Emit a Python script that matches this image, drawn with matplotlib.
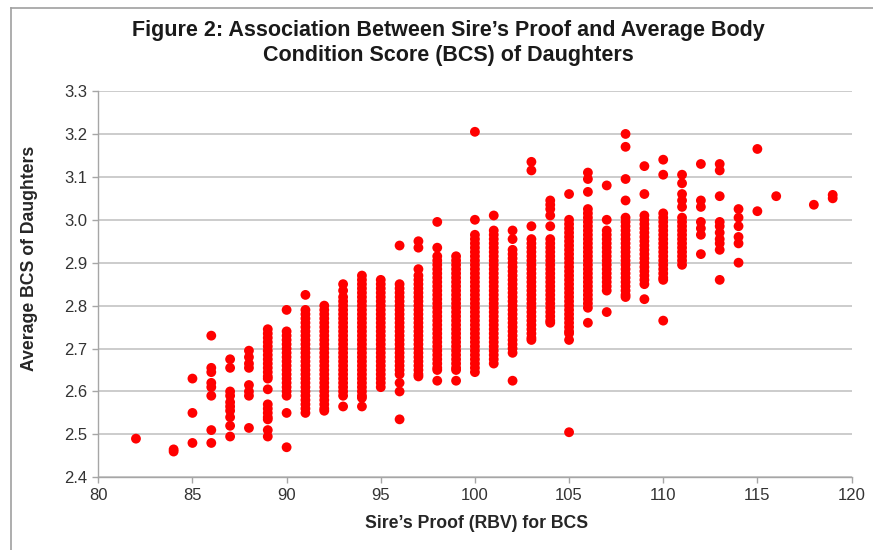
import numpy as np
import matplotlib
matplotlib.use("Agg")
import matplotlib.pyplot as plt
from matplotlib.lines import Line2D

# sire's proof (RBV) columns and the average daughter BCS read in each column
sire_proof = [82, 84, 85, 86, 87, 88, 89, 90, 91, 92, 93, 94, 95, 96, 97, 98, 99,
              100, 101, 102, 103, 104, 105, 106, 107, 108, 109, 110, 111, 112,
              113, 114, 115, 116, 118, 119]

daughters_bcs = [
    [2.49],
    [2.465, 2.46],
    [2.63, 2.55, 2.48],
    [2.73, 2.655, 2.645, 2.62, 2.61, 2.59, 2.51, 2.48],
    [2.675, 2.655, 2.60, 2.59, 2.575, 2.565, 2.555, 2.54, 2.52, 2.495],
    [2.695, 2.68, 2.665, 2.655, 2.615, 2.60, 2.59, 2.515],
    [2.745, 2.735, 2.725, 2.715, 2.705, 2.695, 2.685, 2.675, 2.665, 2.655, 2.645, 2.635,
     2.63, 2.605, 2.57, 2.56, 2.55, 2.54, 2.535, 2.51, 2.495],
    [2.79, 2.74, 2.73, 2.72, 2.71, 2.70, 2.69, 2.68, 2.67, 2.66, 2.65, 2.64, 2.63, 2.62,
     2.61, 2.60, 2.59, 2.55, 2.47],
    [2.825, 2.79, 2.78, 2.77, 2.76, 2.75, 2.74, 2.73, 2.72, 2.71, 2.70, 2.69, 2.68, 2.67,
     2.66, 2.65, 2.64, 2.63, 2.62, 2.61, 2.60, 2.59, 2.58, 2.57, 2.56, 2.55],
    [2.80, 2.79, 2.78, 2.77, 2.76, 2.75, 2.74, 2.73, 2.72, 2.71, 2.70, 2.69, 2.68, 2.67,
     2.66, 2.65, 2.64, 2.63, 2.62, 2.61, 2.60, 2.59, 2.58, 2.57, 2.56, 2.555],
    [2.85, 2.835, 2.82, 2.81, 2.80, 2.79, 2.78, 2.77, 2.76, 2.75, 2.74, 2.73, 2.72, 2.71,
     2.70, 2.69, 2.68, 2.67, 2.66, 2.65, 2.64, 2.63, 2.62, 2.61, 2.60, 2.59, 2.565],
    [2.87, 2.86, 2.85, 2.84, 2.83, 2.82, 2.81, 2.80, 2.79, 2.78, 2.77, 2.76, 2.75, 2.74,
     2.73, 2.72, 2.71, 2.70, 2.69, 2.68, 2.67, 2.66, 2.65, 2.64, 2.63, 2.62, 2.61, 2.60,
     2.59, 2.585, 2.565],
    [2.86, 2.85, 2.84, 2.83, 2.82, 2.81, 2.80, 2.79, 2.78, 2.77, 2.76, 2.75, 2.74, 2.73,
     2.72, 2.71, 2.70, 2.69, 2.68, 2.67, 2.66, 2.65, 2.64, 2.63, 2.62, 2.61],
    [2.94, 2.85, 2.84, 2.83, 2.82, 2.81, 2.80, 2.79, 2.78, 2.77, 2.76, 2.75, 2.74, 2.73,
     2.72, 2.71, 2.70, 2.69, 2.68, 2.67, 2.66, 2.65, 2.64, 2.62, 2.60, 2.535],
    [2.95, 2.935, 2.885, 2.87, 2.86, 2.85, 2.84, 2.83, 2.82, 2.81, 2.80, 2.79, 2.78, 2.77,
     2.76, 2.75, 2.74, 2.73, 2.72, 2.71, 2.70, 2.69, 2.68, 2.67, 2.66, 2.65, 2.64, 2.635],
    [2.995, 2.935, 2.915, 2.905, 2.895, 2.885, 2.875, 2.865, 2.855, 2.845, 2.835, 2.825,
     2.815, 2.805, 2.795, 2.785, 2.775, 2.765, 2.755, 2.745, 2.735, 2.725, 2.715, 2.705,
     2.695, 2.685, 2.675, 2.665, 2.655, 2.65, 2.625],
    [2.915, 2.905, 2.895, 2.885, 2.875, 2.865, 2.855, 2.845, 2.835, 2.825, 2.815, 2.805,
     2.795, 2.785, 2.775, 2.765, 2.755, 2.745, 2.735, 2.725, 2.715, 2.705, 2.695, 2.685,
     2.675, 2.665, 2.655, 2.65, 2.625],
    [3.205, 3.00, 2.965, 2.955, 2.945, 2.935, 2.925, 2.915, 2.905, 2.895, 2.885, 2.875,
     2.865, 2.855, 2.845, 2.835, 2.825, 2.815, 2.805, 2.795, 2.785, 2.775, 2.765, 2.755,
     2.745, 2.735, 2.725, 2.715, 2.705, 2.695, 2.685, 2.675, 2.665, 2.655, 2.645],
    [3.01, 2.975, 2.965, 2.955, 2.945, 2.935, 2.925, 2.915, 2.905, 2.895, 2.885, 2.875,
     2.865, 2.855, 2.845, 2.835, 2.825, 2.815, 2.805, 2.795, 2.785, 2.775, 2.765, 2.755,
     2.745, 2.735, 2.725, 2.715, 2.705, 2.695, 2.685, 2.675, 2.665],
    [2.975, 2.955, 2.93, 2.92, 2.91, 2.90, 2.89, 2.88, 2.87, 2.86, 2.85, 2.84, 2.83, 2.82,
     2.81, 2.80, 2.79, 2.78, 2.77, 2.76, 2.75, 2.74, 2.73, 2.72, 2.71, 2.70, 2.69, 2.625],
    [3.135, 3.115, 2.985, 2.955, 2.945, 2.935, 2.925, 2.915, 2.905, 2.895, 2.885, 2.875,
     2.865, 2.855, 2.845, 2.835, 2.825, 2.815, 2.805, 2.795, 2.785, 2.775, 2.765, 2.755,
     2.745, 2.735, 2.725, 2.72],
    [3.045, 3.035, 3.025, 3.01, 2.985, 2.955, 2.945, 2.935, 2.925, 2.915, 2.905, 2.895,
     2.885, 2.875, 2.865, 2.855, 2.845, 2.835, 2.825, 2.815, 2.805, 2.795, 2.785, 2.775,
     2.765, 2.76],
    [3.06, 3.00, 2.99, 2.98, 2.97, 2.96, 2.95, 2.94, 2.93, 2.92, 2.91, 2.90, 2.89, 2.88,
     2.87, 2.86, 2.85, 2.84, 2.83, 2.82, 2.81, 2.80, 2.79, 2.78, 2.77, 2.76, 2.75, 2.74,
     2.735, 2.72, 2.505],
    [3.11, 3.095, 3.065, 3.025, 3.015, 3.005, 2.995, 2.985, 2.975, 2.965, 2.955, 2.945,
     2.935, 2.925, 2.915, 2.905, 2.895, 2.885, 2.875, 2.865, 2.855, 2.845, 2.835, 2.825,
     2.815, 2.805, 2.795, 2.76],
    [3.08, 3.00, 2.975, 2.965, 2.955, 2.945, 2.935, 2.925, 2.915, 2.905, 2.895, 2.885,
     2.875, 2.865, 2.855, 2.845, 2.835, 2.785],
    [3.20, 3.17, 3.095, 3.045, 3.005, 2.995, 2.985, 2.975, 2.965, 2.955, 2.945, 2.935,
     2.925, 2.915, 2.905, 2.895, 2.885, 2.875, 2.865, 2.855, 2.845, 2.835, 2.825, 2.82],
    [3.125, 3.06, 3.01, 3.00, 2.99, 2.98, 2.97, 2.96, 2.95, 2.94, 2.93, 2.92, 2.91, 2.90,
     2.89, 2.88, 2.87, 2.86, 2.85, 2.815],
    [3.14, 3.105, 3.015, 3.005, 2.995, 2.985, 2.975, 2.965, 2.955, 2.945, 2.935, 2.925,
     2.915, 2.905, 2.895, 2.885, 2.875, 2.865, 2.86, 2.765],
    [3.105, 3.085, 3.06, 3.045, 3.03, 3.005, 2.995, 2.985, 2.975, 2.965, 2.955, 2.945,
     2.935, 2.925, 2.915, 2.905, 2.895],
    [3.13, 3.045, 3.03, 2.995, 2.98, 2.965, 2.92],
    [3.13, 3.115, 3.055, 2.995, 2.985, 2.97, 2.955, 2.945, 2.93, 2.86],
    [3.025, 3.005, 2.985, 2.96, 2.945, 2.90],
    [3.165, 3.02],
    [3.055],
    [3.035],
    [3.058, 3.05],
]

x_ticks = [80, 85, 90, 95, 100, 105, 110, 115, 120]
y_ticks = [2.4, 2.5, 2.6, 2.7, 2.8, 2.9, 3.0, 3.1, 3.2, 3.3]

x = []
y = []
for p, vals in zip(sire_proof, daughters_bcs):
    for v in vals:
        x.append(p)
        y.append(v)

plt.rcParams['font.family'] = ['Liberation Sans', 'DejaVu Sans']

fig = plt.figure(figsize=(8.73, 5.5), dpi=100)
ax = fig.add_axes([0.1126, 0.1322, 0.8628, 0.7023])

ax.scatter(x, y, s=50, color='#ff0000', edgecolors='none', zorder=3, clip_on=False)

ax.set_xlim(80, 120)
ax.set_ylim(2.4, 3.3)
ax.set_xticks(x_ticks)
ax.set_yticks(y_ticks)
ax.set_yticklabels(['%.1f' % t for t in y_ticks])
ax.grid(axis='y', color='#c4c4c4', linewidth=1.2, zorder=0)
ax.set_axisbelow(True)

for side in ['top', 'right']:
    ax.spines[side].set_visible(False)
for side in ['left', 'bottom']:
    ax.spines[side].set_color('#a6a6a6')
    ax.spines[side].set_linewidth(1.0)

ax.tick_params(axis='both', direction='out', length=4, width=1.0, color='#a6a6a6',
               labelsize=12, labelcolor='#333333', pad=4)

# axis titles placed where the reference has them
fig.text(477 / 873, 1 - 524 / 550, 'Sire\u2019s Proof (RBV) for BCS', ha='center', va='center',
         fontsize=12.7, fontweight='bold', color='#262626')
fig.text(30 / 873, 1 - 258 / 550, 'Average BCS of Daughters', ha='center', va='center',
         rotation=90, fontsize=12.7, fontweight='bold', color='#262626')

fig.text(448 / 873, 1 - 43 / 550,
         'Figure 2: Association Between Sire\u2019s Proof and Average Body\n'
         'Condition Score (BCS) of Daughters',
         ha='center', va='center', fontsize=15.5, fontweight='bold', color='#1a1a1a',
         linespacing=1.2)

# chart frame (only top and left edges visible)
fig.add_artist(Line2D([11 / 873, 11 / 873], [0, 1 - 7.5 / 550], color='#a0a0a0', lw=1.2))
fig.add_artist(Line2D([11 / 873, 1], [1 - 7.5 / 550, 1 - 7.5 / 550], color='#a0a0a0', lw=1.2))

fig.savefig('out.png', dpi=100)
